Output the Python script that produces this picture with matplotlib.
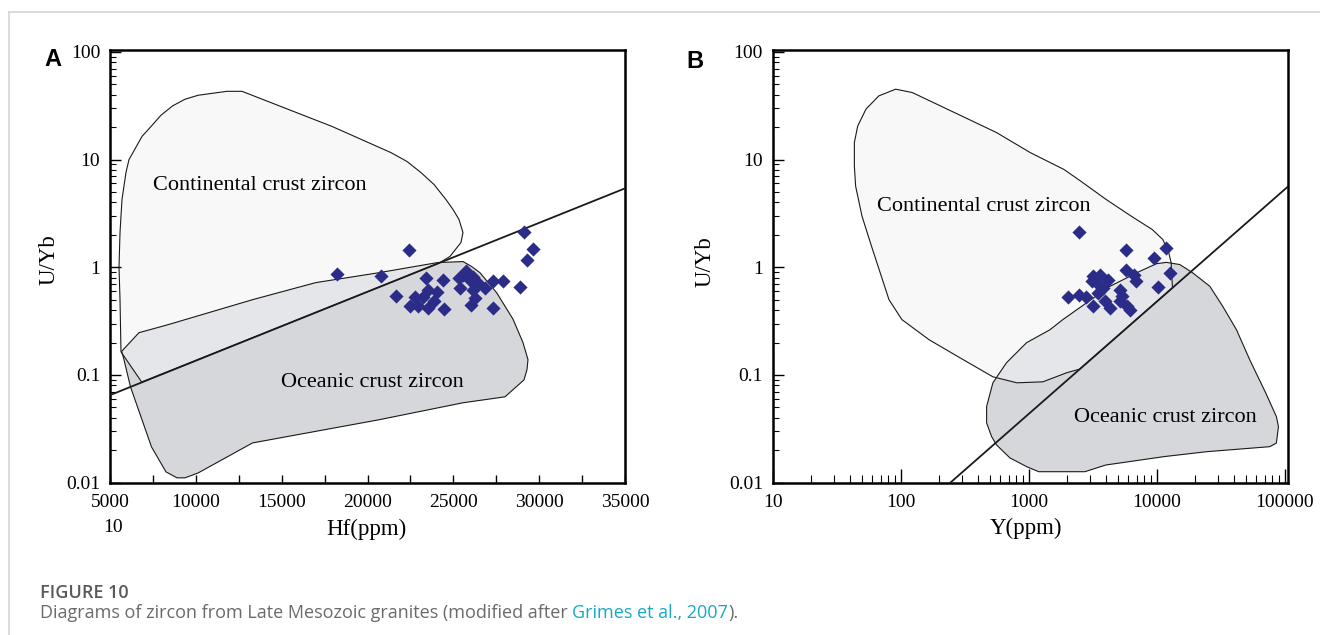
import matplotlib
matplotlib.use("Agg")
import matplotlib.pyplot as plt
from matplotlib.patches import Polygon
from matplotlib.lines import Line2D
from matplotlib.ticker import FixedLocator, FixedFormatter, LogLocator, NullFormatter

# ---- panel A : Hf (ppm) vs U/Yb ----
a_cont_x = [24200, 24805, 25446, 25562, 25329, 24980, 24572, 23873, 23116, 22300,
            21368, 17932, 12689, 11815, 10126, 9369, 8646, 7971, 7417, 6864, 6439,
            6107, 5932, 5699, 5583, 5524, 5583, 5640, 6847]
a_cont_y = [1.10, 1.26, 1.70, 2.10, 2.78, 3.44, 4.25, 5.87, 7.57, 9.6,
            11.6, 20.3, 43.0, 43.0, 39.5, 36.3, 31.5, 25.8, 20.5, 16.4, 12.4,
            10.0, 7.6, 4.27, 2.1, 1.0, 0.5, 0.164, 0.086]

a_ocean_x = [5682, 6689, 8379, 13301, 16982, 20658, 24088, 25562, 26052, 26553,
             27525, 28475, 29057, 29349, 29290, 29116, 28009, 25562, 20669, 13301,
             10126, 9369, 8903, 8262, 7417, 6194, 5816]
a_ocean_y = [0.166, 0.247, 0.293, 0.50, 0.72, 0.89, 1.106, 1.13, 1.02, 0.89,
             0.58, 0.33, 0.20, 0.139, 0.112, 0.090, 0.0627, 0.0552, 0.0384, 0.0234,
             0.0123, 0.0111, 0.0111, 0.0126, 0.0215, 0.0776, 0.138]

a_line_x = [5000, 35000]
a_line_y = [0.065, 5.4]

a_hf = [18205, 20768, 22417, 23407, 24380, 25329, 25562, 25737, 25970, 26145,
        25388, 26145, 26436, 26844, 27310, 27892, 28883, 29116, 29657, 29273,
        21642, 23541, 22766, 23215, 22475, 22958, 23541, 23873, 24456, 26261,
        26028, 27327, 24048]
a_uyb = [0.874, 0.837, 1.44, 0.797, 0.769, 0.797, 0.855, 0.918, 0.769, 0.819,
         0.647, 0.621, 0.722, 0.647, 0.741, 0.741, 0.658, 2.12, 1.49, 1.18,
         0.546, 0.611, 0.531, 0.531, 0.440, 0.440, 0.418, 0.483, 0.410, 0.519,
         0.447, 0.418, 0.594]

a_xticks = [5000, 10000, 15000, 20000, 25000, 30000, 35000]
a_xlabels = ["5000", "10000", "15000", "20000", "25000", "30000", "35000"]

# ---- panel B : Y (ppm) vs U/Yb ----
b_cont_x = [91.3, 123, 263, 561, 1029, 1884, 2553, 4009, 6338, 9246, 11180, 12450,
            13000, 13060, 13300, 2512, 1987, 1291, 809, 525, 290, 166, 102, 80.9,
            57.9, 49.8, 44.4, 43.4, 43.4, 46.1, 53.5, 67.4]
b_cont_y = [45.0, 41.9, 27.3, 17.8, 11.6, 8.1, 6.3, 4.28, 2.98, 2.24, 1.81, 1.36,
            1.10, 0.952, 0.644, 0.1135, 0.105, 0.0864, 0.0846, 0.0962, 0.1445, 0.213,
            0.327, 0.501, 1.69, 2.98, 5.66, 8.7, 14.4, 20.5, 29.4, 39.0]

b_ocean_x = [11940, 15170, 19170, 26050, 32900, 42100, 53500, 71300, 86300, 89600,
             86300, 76600, 24640, 11590, 4010, 2750, 1197, 963, 713, 561, 513, 469,
             469, 525, 671, 963, 1466, 1851, 4315, 7400, 9980]
b_ocean_y = [1.11, 1.06, 0.887, 0.666, 0.433, 0.263, 0.138, 0.068, 0.0411, 0.0332,
             0.0233, 0.0216, 0.0194, 0.0175, 0.0146, 0.01265, 0.01265, 0.0141, 0.0170,
             0.0224, 0.0268, 0.0359, 0.0509, 0.0846, 0.130, 0.1995, 0.263, 0.327,
             0.665, 0.918, 1.08]

b_line_x = [244, 106000]
b_line_y = [0.01, 5.6]

b_y = [2466, 5715, 11740, 9510, 5715, 6670, 6880, 12680, 10280, 3190, 3600, 4180,
       3390, 3820, 3100, 2036, 2477, 2797, 3157, 3937, 4306, 5158, 5320, 5158, 5820,
       6180, 3475]
b_uyb = [2.12, 1.46, 1.52, 1.22, 0.938, 0.855, 0.752, 0.887, 0.652, 0.825, 0.855,
         0.768, 0.716, 0.643, 0.741, 0.531, 0.557, 0.531, 0.434, 0.483, 0.419, 0.621,
         0.537, 0.483, 0.434, 0.404, 0.578]

b_xticks = [10, 100, 1000, 10000, 100000]
b_xlabels = ["10", "100", "1000", "10000", "100000"]

y_ticks = [0.01, 0.1, 1, 10, 100]
y_labels = ["0.01", "0.1", "1", "10", "100"]

light = "#f8f8f9"
mid = "#e5e6e9"
dark = "#d6d7db"
dot = "#2b2b88"
serif = "Liberation Serif"
tick_fs = 14
field_fs = 16
label_fs = 16.5

fig = plt.figure(figsize=(13.2, 6.35), dpi=100)

# page frame lines
fig.add_artist(Line2D([9 / 1320, 1], [1 - 12 / 635, 1 - 12 / 635], color="#d4d4d4", lw=1.2))
fig.add_artist(Line2D([9 / 1320, 9 / 1320], [0, 1 - 12 / 635], color="#d4d4d4", lw=1.2))

axA = fig.add_axes([110 / 1320, 152.3 / 635, 515 / 1320, 432.7 / 635])
axB = fig.add_axes([772.8 / 1320, 152.3 / 635, 515 / 1320, 432.7 / 635])


def draw_fields(ax, cx, cy, ox, oy, lx, ly):
    cont = Polygon(list(zip(cx, cy)), closed=True, fc=light, ec="none", zorder=1)
    ax.add_patch(cont)
    ax.add_patch(Polygon(list(zip(ox, oy)), closed=True, fc=dark, ec="none", zorder=1.1))
    # overlap of the two fields gets the middle tone
    over = Polygon(list(zip(ox, oy)), closed=True, fc=mid, ec="none", zorder=1.2)
    ax.add_patch(over)
    over.set_clip_path(cont)
    ax.add_patch(Polygon(list(zip(cx, cy)), closed=True, fill=False, ec="#1a1a1a",
                         lw=0.8, joinstyle="round", zorder=2))
    ax.add_patch(Polygon(list(zip(ox, oy)), closed=True, fill=False, ec="#1a1a1a",
                         lw=0.8, joinstyle="round", zorder=2))
    ax.plot(lx, ly, color="#1a1a1a", lw=1.3, zorder=3)


draw_fields(axA, a_cont_x, a_cont_y, a_ocean_x, a_ocean_y, a_line_x, a_line_y)
draw_fields(axB, b_cont_x, b_cont_y, b_ocean_x, b_ocean_y, b_line_x, b_line_y)

axA.scatter(a_hf, a_uyb, marker="D", s=52, color=dot, lw=0, zorder=4)
axB.scatter(b_y, b_uyb, marker="D", s=52, color=dot, lw=0, zorder=4)

for ax in (axA, axB):
    ax.set_yscale("log")
    ax.set_ylim(0.01, 104)
    ax.yaxis.set_major_locator(FixedLocator(y_ticks))
    ax.yaxis.set_major_formatter(FixedFormatter(y_labels))
    ax.yaxis.set_minor_locator(LogLocator(base=10, subs=range(2, 10)))
    ax.yaxis.set_minor_formatter(NullFormatter())
    ax.tick_params(axis="y", which="major", direction="in", length=8, width=1, pad=7,
                   labelsize=tick_fs)
    ax.tick_params(axis="y", which="minor", direction="in", length=4.5, width=0.8)
    for s in ax.spines.values():
        s.set_linewidth(1.8)
    ax.set_ylabel("U/Yb", fontsize=label_fs, family=serif)

axA.set_xlim(5000, 35000)
axA.xaxis.set_major_locator(FixedLocator(a_xticks))
axA.xaxis.set_major_formatter(FixedFormatter(a_xlabels))
axA.xaxis.set_minor_locator(FixedLocator(range(7500, 35000, 5000)))
axA.tick_params(axis="x", which="both", direction="in", length=6, width=1, pad=8,
                labelsize=tick_fs)
axA.set_xlabel("Hf(ppm)", fontsize=label_fs, family=serif)

axB.set_xscale("log")
axB.set_xlim(10, 106000)
axB.xaxis.set_major_locator(FixedLocator(b_xticks))
axB.xaxis.set_major_formatter(FixedFormatter(b_xlabels))
axB.xaxis.set_minor_locator(LogLocator(base=10, subs=range(2, 10)))
axB.xaxis.set_minor_formatter(NullFormatter())
axB.tick_params(axis="x", which="major", direction="in", length=10, width=1, pad=8,
                labelsize=tick_fs)
axB.tick_params(axis="x", which="minor", direction="in", length=6, width=0.8)
axB.set_xlabel("Y(ppm)", fontsize=label_fs, family=serif)

axA.xaxis.set_label_coords(0.497, -0.083)
axB.xaxis.set_label_coords(0.492, -0.080)
axA.yaxis.set_label_coords(-0.097, 0.515)
axB.yaxis.set_label_coords(-0.112, 0.51)

for ax in (axA, axB):
    for lab in ax.get_xticklabels() + ax.get_yticklabels():
        lab.set_family(serif)

# field names
axA.text(0.290, 0.686, "Continental crust zircon", transform=axA.transAxes,
         ha="center", va="center", fontsize=field_fs, family=serif)
axA.text(0.510, 0.232, "Oceanic crust zircon", transform=axA.transAxes,
         ha="center", va="center", fontsize=field_fs, family=serif)
axB.text(0.410, 0.638, "Continental crust zircon", transform=axB.transAxes,
         ha="center", va="center", fontsize=field_fs, family=serif)
axB.text(0.762, 0.150, "Oceanic crust zircon", transform=axB.transAxes,
         ha="center", va="center", fontsize=field_fs, family=serif)

# stray "10" under the first Hf tick
axA.text(0.006, -0.103, "10", transform=axA.transAxes, ha="center", va="center",
         fontsize=tick_fs, family=serif)

# panel letters
fig.text(53 / 1320, 1 - 60 / 635, "A", fontsize=17, fontweight="bold",
         family="Liberation Sans", ha="center", va="center")
fig.text(695 / 1320, 1 - 62 / 635, "B", fontsize=17, fontweight="bold",
         family="Liberation Sans", ha="center", va="center")

# caption
fig.text(40 / 1320, 1 - 593 / 635, "FIGURE 10", fontsize=13, color="#5a5a5a",
         family="Open Sans", fontweight="semibold", va="center")
renderer = fig.canvas.get_renderer()
x0 = 40 / 1320
parts = [("Diagrams of zircon from Late Mesozoic granites (modified after ", "#6a6a6a"),
         ("Grimes et al., 2007", "#18a8c4"),
         (").", "#6a6a6a")]
for txt, col in parts:
    t = fig.text(x0, 1 - 613 / 635, txt, fontsize=13, color=col, family="Open Sans",
                 va="center")
    bb = t.get_window_extent(renderer=renderer)
    x0 += bb.width / fig.bbox.width

fig.savefig("out.png", dpi=100, facecolor="white")
